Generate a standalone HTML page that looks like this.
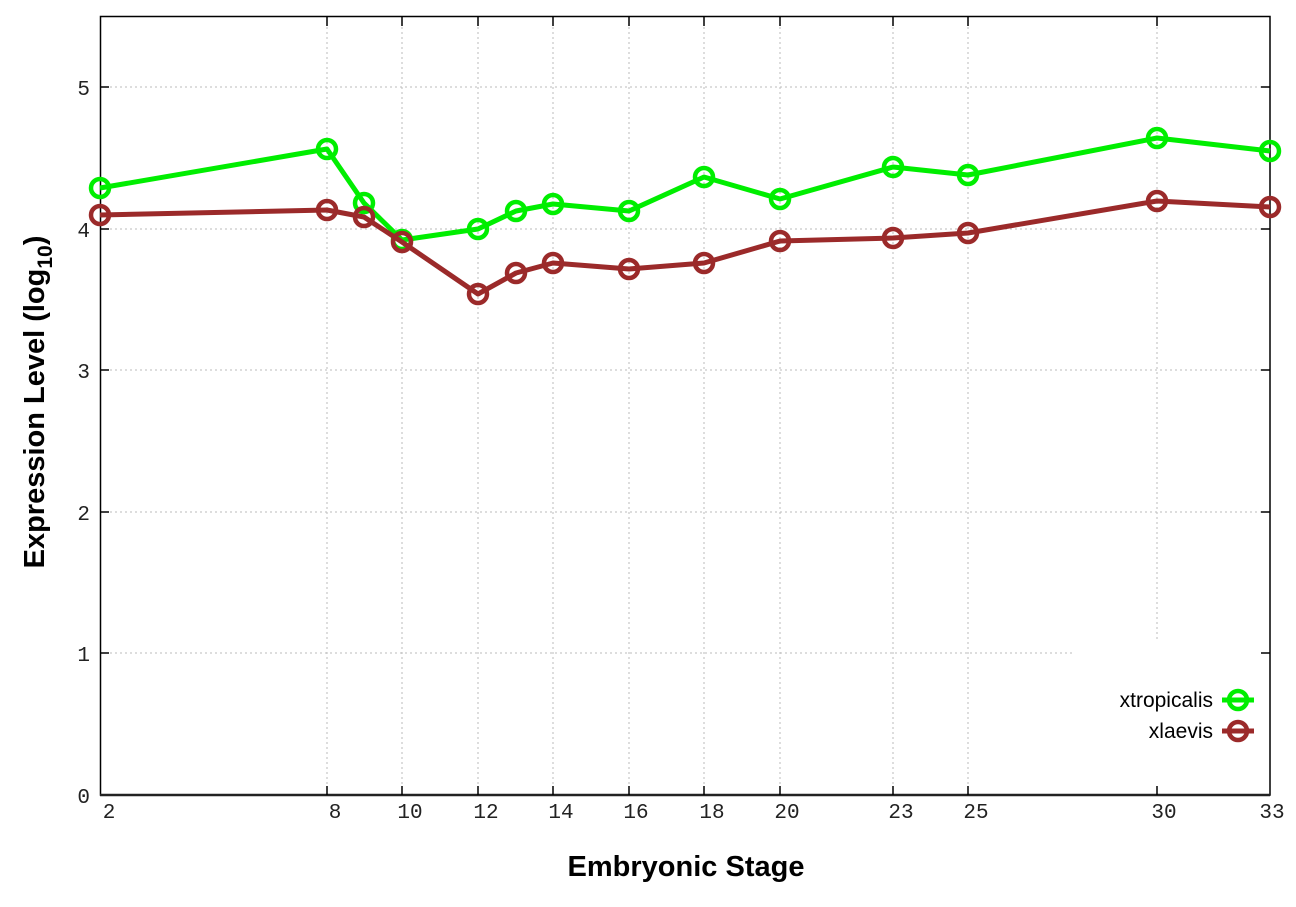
<!DOCTYPE html>
<html><head><meta charset="utf-8"><style>
html,body{margin:0;padding:0;background:#fff;}
svg{display:block;}
.tk{font-family:"Liberation Mono",monospace;font-size:21px;fill:#222;}
.lb{font-family:"Liberation Sans",sans-serif;font-weight:bold;font-size:29px;fill:#000;}
.lg{font-family:"Liberation Sans",sans-serif;font-size:21px;fill:#000;}
</style></head><body>
<svg width="1296" height="907" viewBox="0 0 1296 907" xmlns="http://www.w3.org/2000/svg">
<rect width="1296" height="907" fill="#fff"/>
<g stroke="#bbb" stroke-width="1" stroke-dasharray="2,3">
<line x1="100" y1="87" x2="1270" y2="87"/>
<line x1="100" y1="229" x2="1270" y2="229"/>
<line x1="100" y1="370" x2="1270" y2="370"/>
<line x1="100" y1="512" x2="1270" y2="512"/>
<line x1="100" y1="653" x2="1072" y2="653"/>
<line x1="327" y1="17" x2="327" y2="795"/>
<line x1="402" y1="17" x2="402" y2="795"/>
<line x1="478" y1="17" x2="478" y2="795"/>
<line x1="553" y1="17" x2="553" y2="795"/>
<line x1="629" y1="17" x2="629" y2="795"/>
<line x1="704" y1="17" x2="704" y2="795"/>
<line x1="780" y1="17" x2="780" y2="795"/>
<line x1="893" y1="17" x2="893" y2="795"/>
<line x1="968" y1="17" x2="968" y2="795"/>
<line x1="1157" y1="17" x2="1157" y2="640"/>
</g>
<rect x="100.5" y="16.5" width="1169.5" height="778.5" fill="none" stroke="#000" stroke-width="1.5"/>
<line x1="100" y1="795" x2="1270" y2="795" stroke="#222" stroke-width="2.5"/>
<g stroke="#000" stroke-width="1.5">
<line x1="100" y1="87" x2="109" y2="87"/><line x1="1261" y1="87" x2="1270" y2="87"/>
<line x1="100" y1="229" x2="109" y2="229"/><line x1="1261" y1="229" x2="1270" y2="229"/>
<line x1="100" y1="370" x2="109" y2="370"/><line x1="1261" y1="370" x2="1270" y2="370"/>
<line x1="100" y1="512" x2="109" y2="512"/><line x1="1261" y1="512" x2="1270" y2="512"/>
<line x1="100" y1="653" x2="109" y2="653"/><line x1="1261" y1="653" x2="1270" y2="653"/>
<line x1="327" y1="786" x2="327" y2="795"/><line x1="402" y1="786" x2="402" y2="795"/><line x1="478" y1="786" x2="478" y2="795"/><line x1="553" y1="786" x2="553" y2="795"/><line x1="629" y1="786" x2="629" y2="795"/><line x1="704" y1="786" x2="704" y2="795"/><line x1="780" y1="786" x2="780" y2="795"/><line x1="893" y1="786" x2="893" y2="795"/><line x1="968" y1="786" x2="968" y2="795"/><line x1="1157" y1="786" x2="1157" y2="795"/>
<line x1="327" y1="17" x2="327" y2="26"/><line x1="402" y1="17" x2="402" y2="26"/><line x1="478" y1="17" x2="478" y2="26"/><line x1="553" y1="17" x2="553" y2="26"/><line x1="629" y1="17" x2="629" y2="26"/><line x1="704" y1="17" x2="704" y2="26"/><line x1="780" y1="17" x2="780" y2="26"/><line x1="893" y1="17" x2="893" y2="26"/><line x1="968" y1="17" x2="968" y2="26"/><line x1="1157" y1="17" x2="1157" y2="26"/>
</g>
<g class="tk" text-anchor="end">
<text x="90" y="95">5</text><text x="90" y="237">4</text><text x="90" y="378">3</text><text x="90" y="520">2</text><text x="90" y="661">1</text><text x="90" y="803">0</text>
</g>
<g class="tk" text-anchor="middle">
<text x="109" y="818">2</text><text x="335" y="818">8</text><text x="410" y="818">10</text><text x="486" y="818">12</text><text x="561" y="818">14</text><text x="636" y="818">16</text><text x="712" y="818">18</text><text x="787" y="818">20</text><text x="901" y="818">23</text><text x="976" y="818">25</text><text x="1164" y="818">30</text><text x="1272" y="818">33</text>
</g>
<text class="lb" x="686" y="876" text-anchor="middle">Embryonic Stage</text>
<text class="lb" transform="translate(44,402) rotate(-90)" text-anchor="middle">Expression Level (log<tspan font-size="21" dy="8">10</tspan><tspan dy="-8">)</tspan></text>
<g fill="none" stroke-linejoin="round">
<polyline stroke="#00ee00" stroke-width="5" points="100,188 327,149 364,203 402,240 478,229 516,211 553,204 629,211 704,177 780,199 893,167 968,175 1157,138 1270,151"/>
<g stroke="#00ee00" stroke-width="4.5">
<circle cx="100" cy="188" r="9"/><circle cx="327" cy="149" r="9"/><circle cx="364" cy="203" r="9"/><circle cx="402" cy="240" r="9"/><circle cx="478" cy="229" r="9"/><circle cx="516" cy="211" r="9"/><circle cx="553" cy="204" r="9"/><circle cx="629" cy="211" r="9"/><circle cx="704" cy="177" r="9"/><circle cx="780" cy="199" r="9"/><circle cx="893" cy="167" r="9"/><circle cx="968" cy="175" r="9"/><circle cx="1157" cy="138" r="9"/><circle cx="1270" cy="151" r="9"/>
</g>
<polyline stroke="#9b2a2a" stroke-width="5" points="100,215 327,210 364,217 402,242 478,294 516,273 553,263 629,269 704,263 780,241 893,238 968,233 1157,201 1270,207"/>
<g stroke="#9b2a2a" stroke-width="4.5">
<circle cx="100" cy="215" r="9"/><circle cx="327" cy="210" r="9"/><circle cx="364" cy="217" r="9"/><circle cx="402" cy="242" r="9"/><circle cx="478" cy="294" r="9"/><circle cx="516" cy="273" r="9"/><circle cx="553" cy="263" r="9"/><circle cx="629" cy="269" r="9"/><circle cx="704" cy="263" r="9"/><circle cx="780" cy="241" r="9"/><circle cx="893" cy="238" r="9"/><circle cx="968" cy="233" r="9"/><circle cx="1157" cy="201" r="9"/><circle cx="1270" cy="207" r="9"/>
</g>
</g>
<text class="lg" x="1213" y="707" text-anchor="end">xtropicalis</text>
<text class="lg" x="1213" y="738" text-anchor="end">xlaevis</text>
<g fill="none">
<line x1="1222" y1="700" x2="1254" y2="700" stroke="#00ee00" stroke-width="5"/>
<circle cx="1238" cy="700" r="9" stroke="#00ee00" stroke-width="4.5"/>
<line x1="1222" y1="731" x2="1254" y2="731" stroke="#9b2a2a" stroke-width="5"/>
<circle cx="1238" cy="731" r="9" stroke="#9b2a2a" stroke-width="4.5"/>
</g>
</svg>
</body></html>
